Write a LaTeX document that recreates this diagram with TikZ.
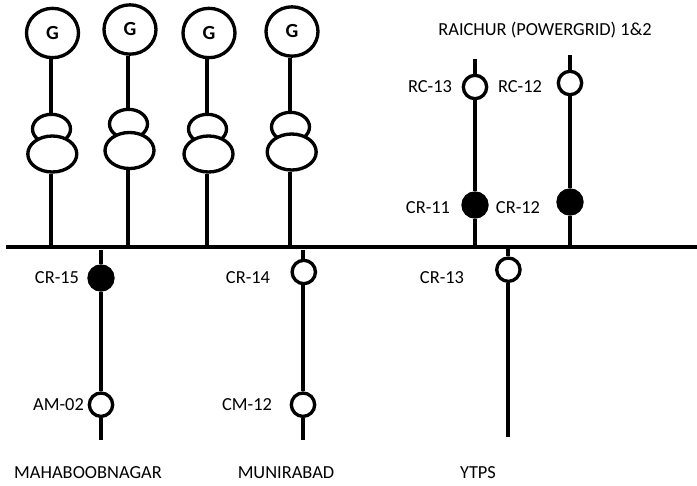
\documentclass[tikz,border=0pt]{standalone}
\usepackage{fontspec}
\setmainfont{Carlito}
\usetikzlibrary{shapes.geometric}

\tikzset{
    label text/.style = {inner sep=0pt, font=\fontsize{13.8}{16}\selectfont},
    generator/.style = {ellipse, draw, line width=2.5pt, fill=white, inner sep=0pt, minimum width=39pt, minimum height=37pt, font=\fontsize{15}{17}\selectfont\bfseries},
    winding top/.style = {ellipse, draw, line width=2.5pt, fill=white, inner sep=0pt, minimum width=28.5pt, minimum height=22pt},
    winding low/.style = {ellipse, draw, line width=2.5pt, fill=white, inner sep=0pt, minimum width=36.75pt, minimum height=27pt},
    breaker open/.style = {circle, draw, line width=2.5pt, fill=white, inner sep=0pt, minimum size=17.5pt},
    breaker shut/.style = {circle, draw, line width=2.5pt, fill=black, inner sep=0pt, minimum size=18pt},
    feeder/.style = {line width=3pt}
}

\begin{document}
\begin{tikzpicture}[x=0.75pt, y=-0.75pt]
    \useasboundingbox (0,0) rectangle (697,486);
    % bus bar
    \coordinate (busl) at (6,247);
    \coordinate (busr) at (697,247);
    \draw[feeder] (busl) to (busr);
    \coordinate (bus1) at (51,247);
    \coordinate (bus2) at (127.7,247);
    \coordinate (bus3) at (206.7,247);
    \coordinate (bus4) at (290,247);
    \coordinate (bus5) at (475,247);
    \coordinate (bus6) at (570,247);
    \coordinate (bus7) at (508,247);

    % generators
    \node[generator] (gen1) at (52.5,33) {G};
    \node[generator] (gen2) at (130,29.5) {G};
    \node[generator] (gen3) at (209,33) {G};
    \node[generator] (gen4) at (292,31.5) {G};
    \node[winding top] (top1) at (51.5,129) {};
    \node[winding top] (top2) at (128.5,124) {};
    \node[winding top] (top3) at (207.5,129) {};
    \node[winding top] (top4) at (290.5,127) {};
    \node[winding low] (low1) at (52.3,154) {};
    \node[winding low] (low2) at (129.5,150.5) {};
    \node[winding low] (low3) at (208.5,154) {};
    \node[winding low] (low4) at (291.7,152) {};
    \draw[feeder] (gen1.south -| bus1) to (top1.north -| bus1);
    \draw[feeder] (gen2.south -| bus2) to (top2.north -| bus2);
    \draw[feeder] (gen3.south -| bus3) to (top3.north -| bus3);
    \draw[feeder] (gen4.south -| bus4) to (top4.north -| bus4);
    \draw[feeder] (low1.south -| bus1) to (bus1);
    \draw[feeder] (low2.south -| bus2) to (bus2);
    \draw[feeder] (low3.south -| bus3) to (bus3);
    \draw[feeder] (low4.south -| bus4) to (bus4);

    % raichur lines
    \coordinate (rc13end) at (475,59);
    \coordinate (rc12end) at (570,55);
    \node[breaker open] (rc13) at (475,87) {};
    \node[breaker open] (rc12) at (570,83) {};
    \node[breaker shut] (cr11) at (475,205) {};
    \node[breaker shut] (cr12) at (570,202) {};
    \draw[feeder] (rc13end) to (rc13);
    \draw[feeder] (rc12end) to (rc12);
    \draw[feeder] (rc13) to (cr11);
    \draw[feeder] (rc12) to (cr12);
    \draw[feeder] (cr11) to (bus5);
    \draw[feeder] (cr12) to (bus6);

    % outgoing lines
    \coordinate (cr15top) at (101,250);
    \coordinate (cr14top) at (303,250);
    \coordinate (am02end) at (101,440);
    \coordinate (cm12end) at (303,440);
    \coordinate (cr13end) at (508,436.7);
    \node[breaker shut] (cr15) at (101,278) {};
    \node[breaker open] (am02) at (101,404.7) {};
    \node[breaker open] (cr14) at (303.8,272) {};
    \node[breaker open] (cm12) at (303,404.7) {};
    \node[breaker open] (cr13) at (508.4,269.7) {};
    \draw[feeder] (cr15top) to (cr15);
    \draw[feeder] (cr15) to (am02);
    \draw[feeder] (am02) to (am02end);
    \draw[feeder] (cr14top) to (cr14.north -| cr14top);
    \draw[feeder] (cr14.south -| cr14top) to (cm12);
    \draw[feeder] (cm12) to (cm12end);
    \draw[feeder] (bus7) to (cr13.north -| bus7);
    \draw[feeder] (cr13.south -| bus7) to (cr13end);

    % labels
    \node[label text] (title) at (545,30) {RAICHUR (POWERGRID) 1\&2};
    \node[label text] (lrc13) at (430,87) {RC-13};
    \node[label text] (lrc12) at (520,87) {RC-12};
    \node[label text] (lcr11) at (428,208) {CR-11};
    \node[label text] (lcr12) at (518,208) {CR-12};
    \node[label text] (lcr15) at (57,278) {CR-15};
    \node[label text] (lcr14) at (248,278) {CR-14};
    \node[label text] (lcr13) at (442,278) {CR-13};
    \node[label text] (lam02) at (58.5,405) {AM-02};
    \node[label text] (lcm12) at (247,405) {CM-12};
    \node[label text] (mahab) at (88,472.5) {MAHABOOBNAGAR};
    \node[label text] (munir) at (286,472.5) {MUNIRABAD};
    \node[label text] (ytps) at (478,472.5) {YTPS};
\end{tikzpicture}
\end{document}
